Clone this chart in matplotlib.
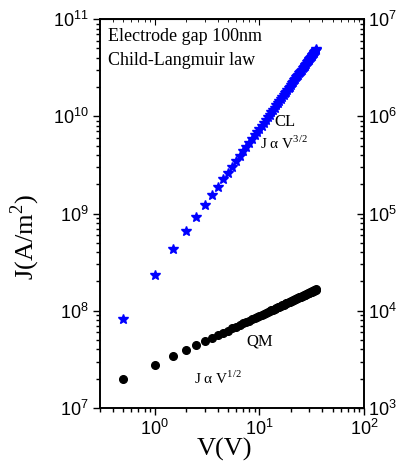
import matplotlib
matplotlib.use("Agg")
import matplotlib.pyplot as plt
import numpy as np
from matplotlib.ticker import FuncFormatter, LogLocator, NullFormatter

# applied voltage (V)
volts = [0.5, 1.0, 1.5, 2.0, 2.5, 3.0, 3.5, 4.0, 4.5, 5.0,
         5.5, 6.0, 6.5, 7.0, 7.5, 8.0, 8.5, 9.0, 9.5, 10.0,
         10.5, 11.0, 11.5, 12.0, 12.5, 13.0, 13.5, 14.0, 14.5, 15.0,
         15.5, 16.0, 16.5, 17.0, 17.5, 18.0, 18.5, 19.0, 19.5, 20.0,
         20.5, 21.0, 21.5, 22.0, 22.5, 23.0, 23.5, 24.0, 24.5, 25.0,
         25.5, 26.0, 26.5, 27.0, 27.5, 28.0, 28.5, 29.0, 29.5, 30.0,
         30.5, 31.0, 31.5, 32.0, 32.5, 33.0, 33.5, 34.0, 34.5, 35.0]

# Child-Langmuir current density, units of 1e8 A/m^2
cl_j = [0.83, 2.35, 4.32, 6.65, 9.29, 12.2, 15.4, 18.8, 22.4, 26.3,
        30.3, 34.6, 38.9, 43.5, 48.3, 53.2, 58.2, 63.5, 68.8, 74.3,
        80.0, 85.7, 91.7, 97.7, 104, 110, 117, 123, 130, 137,
        143, 150, 158, 165, 172, 179, 187, 195, 202, 210,
        218, 226, 234, 243, 251, 259, 268, 276, 285, 294,
        303, 312, 321, 330, 339, 348, 358, 367, 377, 386,
        396, 406, 415, 425, 435, 445, 456, 466, 476, 487]

# quantum (QM) current density, units of 1e7 A/m^2
qm_j = [1.98, 2.80, 3.43, 3.96, 4.43, 4.85, 5.24, 5.60, 5.94, 6.26,
        6.57, 6.86, 7.14, 7.41, 7.67, 7.92, 8.16, 8.40, 8.63, 8.85,
        9.07, 9.29, 9.50, 9.70, 9.90, 10.10, 10.29, 10.48, 10.66, 10.84,
        11.02, 11.20, 11.37, 11.54, 11.71, 11.88, 12.04, 12.20, 12.36, 12.52,
        12.68, 12.83, 12.98, 13.13, 13.28, 13.43, 13.57, 13.72, 13.86, 14.00,
        14.14, 14.28, 14.41, 14.55, 14.68, 14.82, 14.95, 15.08, 15.21, 15.34,
        15.46, 15.59, 15.72, 15.84, 15.96, 16.08, 16.21, 16.33, 16.45, 16.57]

plt.rcParams['mathtext.fontset'] = 'custom'
plt.rcParams['mathtext.rm'] = 'Liberation Serif'
plt.rcParams['mathtext.sf'] = 'Liberation Sans'
plt.rcParams['font.family'] = 'Liberation Serif'

def sci_label(v, pos):
    return r'$\mathsf{10^{%d}}$' % int(round(np.log10(v)))

fig = plt.figure(figsize=(3.98, 4.66), dpi=100)
ax = fig.add_axes([0.251, 0.1245, 0.664, 0.8345])

ax.plot(volts, np.array(cl_j) * 1e8, ls='none', marker='*', ms=7.5, color='#0000ff')
ax.plot(volts, np.array(qm_j) * 1e7, ls='none', marker='o', ms=5.5, color='black')

ax.set_xscale('log')
ax.set_yscale('log')
ax.set_xlim(0.3, 100)
ax.set_ylim(1e7, 1e11)

for axis in (ax.xaxis, ax.yaxis):
    axis.set_major_locator(LogLocator(base=10, numticks=20))
    axis.set_minor_locator(LogLocator(base=10, subs=np.arange(2, 10), numticks=20))
    axis.set_major_formatter(FuncFormatter(sci_label))
    axis.set_minor_formatter(NullFormatter())

ax.tick_params(which='both', direction='out', labelsize=13, width=1, top=False, right=False, pad=3)
ax.tick_params(which='major', length=5)
ax.tick_params(which='minor', length=3)

# top ticks pointing in, no labels
axt = ax.secondary_xaxis('top')
axt.tick_params(which='both', direction='in', labeltop=False)
axt.tick_params(which='major', length=4)
axt.tick_params(which='minor', length=2)
axt.xaxis.set_major_formatter(NullFormatter())
axt.xaxis.set_minor_formatter(NullFormatter())

# right axis
ax2 = ax.twinx()
ax2.set_yscale('log')
ax2.set_ylim(1e3, 1e7)
ax2.yaxis.set_major_locator(LogLocator(base=10, numticks=20))
ax2.yaxis.set_minor_locator(LogLocator(base=10, subs=np.arange(2, 10), numticks=20))
ax2.yaxis.set_major_formatter(FuncFormatter(sci_label))
ax2.yaxis.set_minor_formatter(NullFormatter())
ax2.tick_params(which='both', direction='in', labelsize=13, width=1, pad=3)
ax2.tick_params(which='major', length=5)
ax2.tick_params(which='minor', length=3)

for a in (ax, ax2):
    for s in a.spines.values():
        s.set_linewidth(1.2)

ax.text(0.03, 0.978, 'Electrode gap 100nm', transform=ax.transAxes, fontsize=13, va='top', ha='left')
ax.text(0.03, 0.915, 'Child-Langmuir law', transform=ax.transAxes, fontsize=13, va='top', ha='left')
ax.text(13.9, 8.7e9, 'CL', fontsize=12, va='center', ha='left')
ax.text(10.2, 5.3e9, r'J α V$^{3/2}$', fontsize=11, va='center', ha='left')
ax.text(7.5, 4.8e7, 'QM', fontsize=12, va='center', ha='left')
ax.text(2.35, 2.0e7, r'J α V$^{1/2}$', fontsize=11, va='center', ha='left')

ax.set_xlabel('V(V)', fontsize=19)
ax.xaxis.set_label_coords(0.473, -0.078)
ax.set_ylabel(r'J(A/m$^2$)', fontsize=19)
ax.yaxis.set_label_coords(-0.22, 0.44)

fig.savefig('out.png', dpi=100)
